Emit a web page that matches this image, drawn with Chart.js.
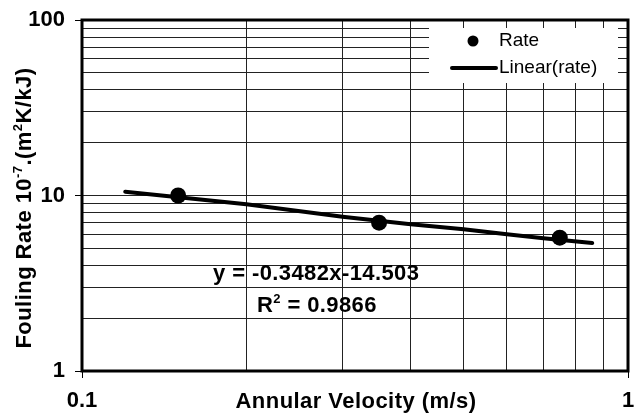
<!DOCTYPE html>
<html><head><meta charset="utf-8">
<script src="https://cdn.jsdelivr.net/npm/chart.js@4/dist/chart.umd.min.js"></script>
<style>html,body{margin:0;padding:0;background:#fff}#wrap{width:636px;height:413px;position:relative}</style>
</head><body><div id="wrap"><canvas id="c" width="636" height="413"></canvas></div>
<script>
// ---- data ----
const velocity = [0.15, 0.35, 0.75];
const rate = [10.0, 7.0, 5.75];
const trendVelocity = [0.12, 0.2, 0.3, 0.4, 0.5, 0.6, 0.7, 0.86];
const trendRate = [10.5, 8.91, 7.57, 6.85, 6.42, 6.01, 5.70, 5.36];
const xTickLabels = [0.1, 1];
const yTickLabels = [1, 10, 100];
const xTitle = 'Annular Velocity (m/s)';
const yTitleParts = [['Fouling Rate 10', false], ['-7', true], ['.(m', false], ['2', true], ['K/kJ)', false]];
const equationText = 'y = -0.3482x-14.503';
const r2Parts = [['R', false], ['2', true], [' = 0.9866', false]];
const legendLabels = ['Rate', 'Linear(rate)'];

const FAM = '"Liberation Sans", Arial, sans-serif';
const near = (a, b) => Math.abs(Math.log10(a) - Math.log10(b)) < 1e-6;
const isLabelled = (v, list) => list.some(l => near(v, l));

// log grid: 1..9 times each power of ten between the first and last labels
function logGrid(labels) {
  const out = [];
  const lo = Math.round(Math.log10(labels[0])), hi = Math.round(Math.log10(labels[labels.length - 1]));
  for (let e = lo; e < hi; e++) for (let m = 1; m <= 9; m++) out.push(parseFloat((m * Math.pow(10, e)).toPrecision(6)));
  out.push(parseFloat(Math.pow(10, hi).toPrecision(6)));
  return out;
}

function drawParts(ctx, parts, x, y, size, supSize, align) {
  let total = 0;
  const widths = parts.map(([t, sup]) => {
    ctx.font = 'bold ' + (sup ? supSize : size) + 'px ' + FAM;
    const w = ctx.measureText(t).width; total += w; return w;
  });
  let cx = align === 'center' ? x - total / 2 : x;
  ctx.textAlign = 'left'; ctx.textBaseline = 'alphabetic';
  parts.forEach(([t, sup], i) => {
    ctx.font = 'bold ' + (sup ? supSize : size) + 'px ' + FAM;
    ctx.fillText(t, cx, sup ? y - 9 : y);
    cx += widths[i];
  });
}

const decor = {
  id: 'decor',
  afterDatasetsDraw(chart) {
    const ctx = chart.ctx;
    ctx.save();
    ctx.fillStyle = '#fff';
    ctx.fillRect(429, 28, 189, 55);
    ctx.fillStyle = '#000';
    ctx.beginPath(); ctx.arc(473, 41, 5.5, 0, Math.PI * 2); ctx.fill();
    ctx.strokeStyle = '#000'; ctx.lineWidth = 4; ctx.lineCap = 'round';
    ctx.beginPath(); ctx.moveTo(452, 68); ctx.lineTo(496, 68); ctx.stroke();
    ctx.font = '19px ' + FAM; ctx.textAlign = 'left'; ctx.textBaseline = 'middle';
    ctx.fillText(legendLabels[0], 499, 41);
    ctx.fillText(legendLabels[1], 499, 68);
    ctx.letterSpacing = '0.4px';
    ctx.font = 'bold 22px ' + FAM; ctx.textBaseline = 'alphabetic';
    ctx.fillText(equationText, 213, 279.5);
    drawParts(ctx, r2Parts, 257, 311.5, 22, 13, 'left');
    ctx.restore();
  },
  afterDraw(chart) {
    const ctx = chart.ctx, a = chart.chartArea;
    ctx.save();
    ctx.strokeStyle = '#000'; ctx.lineWidth = 3;
    ctx.strokeRect(a.left, a.top, a.right - a.left, a.bottom - a.top);
    ctx.fillStyle = '#000';
    ctx.letterSpacing = '0.45px';
    ctx.font = 'bold 22px ' + FAM; ctx.textAlign = 'center'; ctx.textBaseline = 'alphabetic';
    ctx.fillText(xTitle, (a.left + a.right) / 2 + 1, 408);
    ctx.translate(23, 208); ctx.rotate(-Math.PI / 2);
    drawParts(ctx, yTitleParts, 0, 8, 22, 13, 'center');
    ctx.restore();
  }
};

const tickFont = { family: FAM, size: 22, weight: 'bold' };

new Chart(document.getElementById('c'), {
  type: 'scatter',
  data: {
    datasets: [
      {
        label: legendLabels[1],
        data: trendVelocity.map((x, i) => ({ x, y: trendRate[i] })),
        showLine: true, borderColor: '#000', borderWidth: 4, pointRadius: 0,
        borderCapStyle: 'round', borderJoinStyle: 'round', tension: 0, order: 2
      },
      {
        label: legendLabels[0],
        data: velocity.map((x, i) => ({ x, y: rate[i] })),
        showLine: false, pointRadius: 8, pointHoverRadius: 8,
        backgroundColor: '#000', borderColor: '#000', borderWidth: 0, order: 1
      }
    ]
  },
  options: {
    responsive: false, animation: false, devicePixelRatio: 1,
    layout: { padding: { top: 20, right: 3, left: 0, bottom: 0 } },
    plugins: { legend: { display: false }, tooltip: { enabled: false } },
    scales: {
      x: {
        type: 'logarithmic', min: 0.1, max: 1, position: 'bottom',
        border: { display: false },
        afterBuildTicks: s => { s.ticks = logGrid(xTickLabels).map(v => ({ value: v })); },
        grid: {
          color: '#222', lineWidth: 1, tickLength: 7,
          tickColor: c => (c.tick && isLabelled(c.tick.value, xTickLabels)) ? '#000' : 'rgba(0,0,0,0)'
        },
        ticks: {
          autoSkip: false, maxRotation: 0, padding: 10, color: '#000', font: tickFont,
          callback: v => isLabelled(v, xTickLabels) ? String(xTickLabels.find(l => near(v, l))) : ''
        },
        afterFit: s => { s.height = 42; s.paddingLeft = 0; s.paddingRight = 0; }
      },
      y: {
        type: 'logarithmic', min: 1, max: 100,
        border: { display: false },
        afterBuildTicks: s => { s.ticks = logGrid(yTickLabels).map(v => ({ value: v })); },
        grid: {
          color: '#222', lineWidth: 1, tickLength: 7,
          tickColor: c => (c.tick && isLabelled(c.tick.value, yTickLabels)) ? '#000' : 'rgba(0,0,0,0)'
        },
        ticks: {
          autoSkip: false, padding: 10, color: '#000', font: tickFont,
          callback: v => isLabelled(v, yTickLabels) ? String(yTickLabels.find(l => near(v, l))) : ''
        },
        afterFit: s => { s.width = 82; s.paddingTop = 0; s.paddingBottom = 0; }
      }
    }
  },
  plugins: [decor]
});
</script>
</body></html>
